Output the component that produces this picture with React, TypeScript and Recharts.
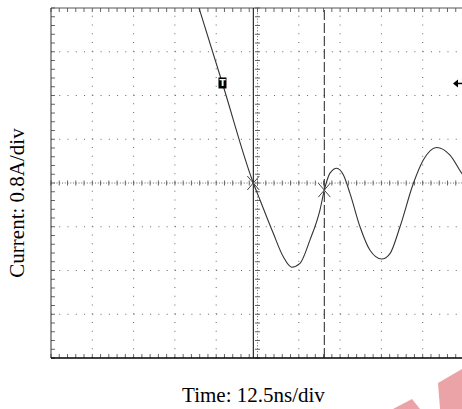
import React from 'react';
import {
    LineChart,
    Line,
    XAxis,
    YAxis,
    ReferenceLine,
    ReferenceDot,
} from 'recharts';

// scope screen: 10 x 12.5ns divisions, 8 x 0.8A divisions
const timeDivs = [-62.5, -50, -37.5, -25, -12.5, 0, 12.5, 25, 37.5, 50, 62.5];
const currentDivs = [-3.2, -2.4, -1.6, -0.8, 0, 0.8, 1.6, 2.4, 3.2];
const MINOR_PER_DIV = 5;

// trace
const timeNs = [
    -17.7, -10.6, -1.27, 0.76, 4.78, 7.81, 10.35, 12.86, 15.89, 18.92, 20.22,
    21.94, 23.97, 25.97, 27.99, 31.02, 34.05, 37.59, 40.1, 43.13, 47.16,
    50.18, 54.24, 58.26, 61.8, 62.5,
];
const currentA = [
    3.2, 1.82, 0, -0.31, -0.92, -1.35, -1.54, -1.47, -1.04, -0.49, -0.13,
    0.18, 0.27, 0.15, -0.19, -0.8, -1.23, -1.39, -1.29, -0.8, -0.01,
    0.42, 0.65, 0.51, 0.18, 0.12,
];

// cursors and trigger
const cursorA = { t: -1.27, i: 0 };
const cursorB = { t: 20.22, i: -0.13 };
const trigger = { t: -10.6, level: 1.82 };

const data = timeNs.map((t, k) => ({ t, i: currentA[k] }));

const W = 470;
const H = 409;
const margin = { top: 8, right: 6, bottom: 51, left: 51 };
const plotW = W - margin.left - margin.right;
const plotH = H - margin.top - margin.bottom;

const tMin = timeDivs[0];
const tMax = timeDivs[timeDivs.length - 1];
const iMin = currentDivs[0];
const iMax = currentDivs[currentDivs.length - 1];
const tStep = (timeDivs[1] - timeDivs[0]) / MINOR_PER_DIV;
const iStep = (currentDivs[1] - currentDivs[0]) / MINOR_PER_DIV;
const xMinor = Array.from({ length: (timeDivs.length - 1) * MINOR_PER_DIV + 1 }, (_, k) => +(tMin + k * tStep).toFixed(3));
const yMinor = Array.from({ length: (currentDivs.length - 1) * MINOR_PER_DIV + 1 }, (_, k) => +(iMin + k * iStep).toFixed(3));

// px -> data units for tick lengths
const pxT = (tMax - tMin) / plotW;
const pxI = (iMax - iMin) / plotH;

const gridColor = '#666';
const minorX = plotW / ((timeDivs.length - 1) * MINOR_PER_DIV);
const minorY = plotH / ((currentDivs.length - 1) * MINOR_PER_DIV);

const Star = (props: any) => {
    const { cx, cy } = props;
    return (
        <g stroke="#444" strokeWidth={1}>
            <line x1={cx - 6} y1={cy - 7} x2={cx + 6} y2={cy + 7} />
            <line x1={cx + 6} y1={cy - 7} x2={cx - 6} y2={cy + 7} />
        </g>
    );
};

const TriggerMark = (props: any) => {
    const { cx, cy } = props;
    return (
        <g>
            <rect x={cx - 4} y={cy - 6} width={8} height={11} fill="#000" />
            <text x={cx} y={cy + 3} fill="#fff" fontSize={9} fontWeight="bold" textAnchor="middle" fontFamily="DejaVu Sans">T</text>
        </g>
    );
};

const LevelArrow = (props: any) => {
    const { cx, cy } = props;
    return (
        <g>
            <polygon points={`${cx - 11},${cy} ${cx - 6},${cy - 4} ${cx - 6},${cy + 4}`} fill="#000" />
            <line x1={cx - 6} y1={cy} x2={cx - 1} y2={cy} stroke="#000" strokeWidth={1.5} />
        </g>
    );
};

export default function App() {
    return (
        <div style={{ position: 'fixed', top: 0, left: 0, width: 462, height: 409, overflow: 'hidden', background: '#fff' }}>
            <LineChart width={W} height={H} data={data} margin={margin}>
                <XAxis dataKey="t" type="number" domain={[tMin, tMax]} hide allowDataOverflow />
                <YAxis type="number" domain={[iMin, iMax]} hide allowDataOverflow />

                {/* dotted division grid */}
                {timeDivs.slice(1, -1).filter((t) => t !== 0).map((t) => (
                    <ReferenceLine key={`gx${t}`} x={t} stroke={gridColor} strokeDasharray={`1 ${minorY - 1}`} />
                ))}
                {currentDivs.slice(1, -1).filter((v) => v !== 0).map((v) => (
                    <ReferenceLine key={`gy${v}`} y={v} stroke={gridColor} strokeDasharray={`1 ${minorX - 1}`} />
                ))}

                {/* centre axes with minor ticks */}
                <ReferenceLine x={0} stroke={gridColor} strokeDasharray={`1 ${minorY / 3 - 1}`} />
                <ReferenceLine y={0} stroke={gridColor} strokeDasharray={`1 ${minorX / 3 - 1}`} />
                {xMinor.map((t) => (
                    <ReferenceLine key={`cx${t}`} segment={[{ x: t, y: -2.5 * pxI }, { x: t, y: 2.5 * pxI }]} stroke={gridColor} />
                ))}
                {yMinor.map((v) => (
                    <ReferenceLine key={`cy${v}`} segment={[{ x: -2.5 * pxT, y: v }, { x: 2.5 * pxT, y: v }]} stroke={gridColor} />
                ))}

                {/* frame ticks */}
                {xMinor.map((t) => (
                    <ReferenceLine key={`tt${t}`} segment={[{ x: t, y: iMax }, { x: t, y: iMax - 4 * pxI }]} stroke={gridColor} />
                ))}
                {xMinor.map((t) => (
                    <ReferenceLine key={`bt${t}`} segment={[{ x: t, y: iMin }, { x: t, y: iMin + 4 * pxI }]} stroke={gridColor} />
                ))}
                {yMinor.map((v) => (
                    <ReferenceLine key={`lt${v}`} segment={[{ x: tMin, y: v }, { x: tMin + 4 * pxT, y: v }]} stroke={gridColor} />
                ))}

                {/* frame */}
                <ReferenceLine y={iMax} stroke="#555" />
                <ReferenceLine x={tMin} stroke="#333" />
                <ReferenceLine x={tMax} stroke="#333" />
                <ReferenceLine y={iMin} stroke="#000" strokeWidth={1.5} />

                {/* cursors */}
                <ReferenceLine x={cursorA.t} stroke="#000" strokeWidth={1} />
                <ReferenceLine x={cursorB.t} stroke="#222" strokeDasharray="10 3" />

                <Line
                    type="monotone"
                    dataKey="i"
                    stroke="#333"
                    strokeWidth={1.1}
                    dot={false}
                    isAnimationActive={false}
                />

                <ReferenceDot x={cursorA.t} y={cursorA.i} shape={Star} />
                <ReferenceDot x={cursorB.t} y={cursorB.i} shape={Star} />
                <ReferenceDot x={trigger.t} y={trigger.level} shape={TriggerMark} />
                <ReferenceDot x={tMax} y={trigger.level} shape={LevelArrow} />
            </LineChart>

            <svg width={462} height={409} style={{ position: 'absolute', top: 0, left: 0, pointerEvents: 'none' }}>
                <g fill="#eba3a7">
                    <polygon points="393,409 412,399 420,409" />
                    <polygon points="438,383 462,369 462,409 440,409" />
                </g>
                <text
                    x={253.5}
                    y={401.5}
                    textAnchor="middle"
                    fontFamily="'Liberation Serif', 'Times New Roman', serif"
                    fontSize={21}
                    fill="#000"
                >
                    Time: 12.5ns/div
                </text>
                <text
                    x={24}
                    y={203}
                    transform="rotate(-90, 24, 203)"
                    textAnchor="middle"
                    fontFamily="'Liberation Serif', 'Times New Roman', serif"
                    fontSize={21}
                    fill="#000"
                >
                    Current: 0.8A/div
                </text>
            </svg>
        </div>
    );
}
